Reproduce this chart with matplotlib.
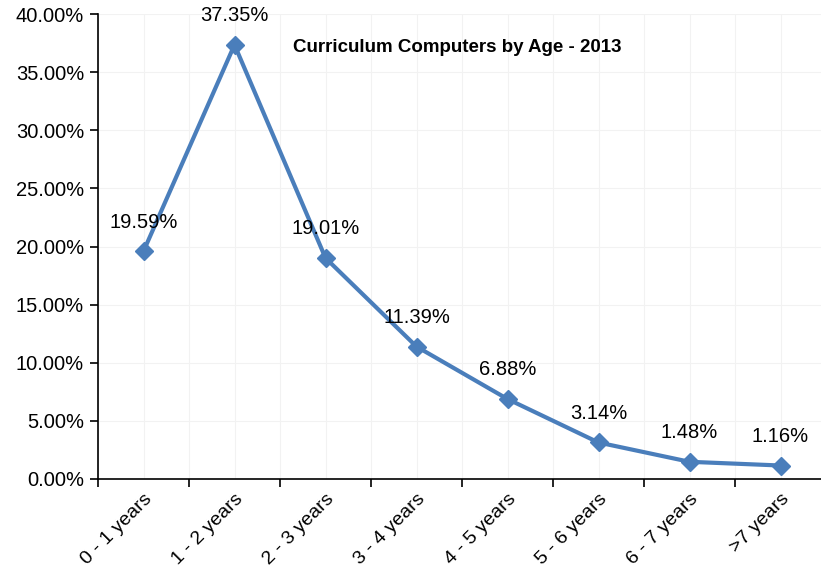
import matplotlib
matplotlib.use("Agg")
import matplotlib.pyplot as plt
import numpy as np

# Chart data
categories = ['0 - 1 years', '1 - 2 years', '2 - 3 years', '3 - 4 years',
              '4 - 5 years', '5 - 6 years', '6 - 7 years', '>7 years']
shares = [19.59, 37.35, 19.01, 11.39, 6.88, 3.14, 1.48, 1.16]
y_ticks = [0, 5, 10, 15, 20, 25, 30, 35, 40]
title = 'Curriculum Computers by Age - 2013'

plt.rcParams['font.family'] = ['Liberation Sans', 'DejaVu Sans']

fig = plt.figure(figsize=(8.21, 5.72), dpi=100)
ax = fig.add_axes([98 / 821, 93 / 572, 728 / 821, 465 / 572])

x = np.arange(len(categories))
line_color = '#4a7ebb'
ax.plot(x, shares, color=line_color, linewidth=3.0, marker='D',
        markersize=9, markerfacecolor=line_color, markeredgecolor=line_color,
        zorder=3, clip_on=False)

for xi, v in zip(x, shares):
    ax.annotate(f'{v:.2f}%', (xi, v), xytext=(0, 21), textcoords='offset points',
                ha='center', va='center', fontsize=14.5, zorder=4)

# axes
ax.set_xlim(-0.5, len(categories) - 0.5)
ax.set_ylim(0, 40)
ax.set_yticks(y_ticks)
ax.set_yticklabels([f'{t:.2f}%' for t in y_ticks], fontsize=14.5)

# category boundaries as major ticks, labels at centres
ax.set_xticks(np.arange(-0.5, len(categories) + 0.5, 1))
ax.set_xticklabels([])
ax.set_xticks(x, minor=True)
ax.set_xticklabels(categories, minor=True, rotation=45, ha='right',
                   rotation_mode='anchor', fontsize=14)
ax.tick_params(axis='x', which='minor', length=0, pad=8)
ax.tick_params(axis='x', which='major', length=6, width=1.2, direction='out')
ax.tick_params(axis='y', length=6, width=1.2, direction='out', pad=4)

# very faint gridlines
for gx in np.arange(-0.5, len(categories), 0.5):
    ax.axvline(gx, color='#f2f2f2', linewidth=0.8, zorder=0)
for gy in y_ticks[1:]:
    ax.axhline(gy, color='#f2f2f2', linewidth=0.8, zorder=0)

for side in ['top', 'right']:
    ax.spines[side].set_visible(False)
ax.spines['left'].set_linewidth(1.2)
ax.spines['bottom'].set_linewidth(1.2)

ax.text(0.493, 0.927, title, transform=ax.transAxes, ha='center', va='center',
        fontsize=13.5, fontweight='bold')

fig.savefig('out.png', dpi=100)
